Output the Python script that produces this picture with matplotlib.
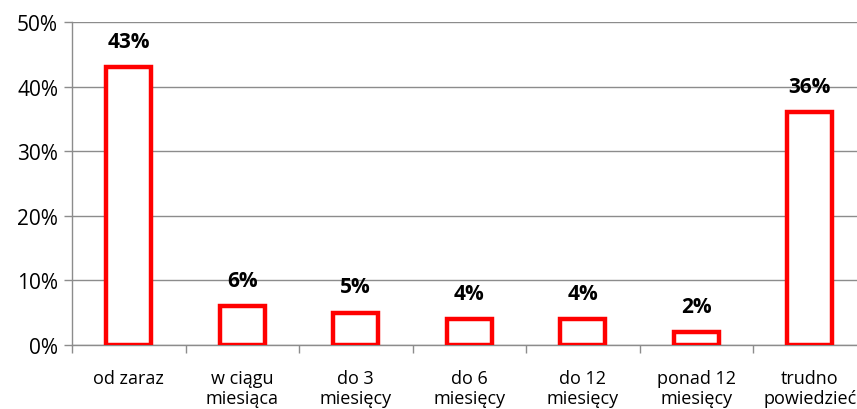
import matplotlib
matplotlib.use("Agg")
import matplotlib.pyplot as plt
import numpy as np

plt.rcParams['font.family'] = ['Open Sans', 'DejaVu Sans']

kategorie = ['od zaraz', 'w ciągu\nmiesiąca', 'do 3\nmiesięcy', 'do 6\nmiesięcy',
             'do 12\nmiesięcy', 'ponad 12\nmiesięcy', 'trudno\npowiedzieć']
wartosci = [43, 6, 5, 4, 4, 2, 36]

fig = plt.figure(figsize=(8.57, 4.10), dpi=100)
ax = fig.add_axes([72 / 857, 1 - 346 / 410, 794.5 / 857, 323 / 410])

x = np.arange(len(kategorie))
ax.bar(x, wartosci, width=0.4, facecolor='white', edgecolor='#ff0000', linewidth=3.2, zorder=3)

for xi, v in zip(x, wartosci):
    ax.text(xi, v + 2.4, f'{v}%', ha='center', va='bottom', fontsize=15,
            fontweight='bold', color='black')

ax.set_xlim(-0.5, len(kategorie) - 0.5)
ax.set_ylim(0, 50)
ax.set_yticks(np.arange(0, 51, 10))
ax.set_yticklabels([f'{t}%' for t in range(0, 51, 10)], fontsize=15)
ax.yaxis.grid(True, color='#8c8c8c', linewidth=1, zorder=0)

ax.set_xticks(x)
ax.set_xticklabels(kategorie, fontsize=13, linespacing=1.15)
ax.set_xticks(np.arange(-0.5, len(kategorie), 1), minor=True)
ax.tick_params(axis='x', which='major', length=0, pad=17)
ax.tick_params(axis='x', which='minor', length=6, color='#8c8c8c', width=1)
ax.tick_params(axis='y', length=6, color='#8c8c8c', width=1, pad=4)

for s in ['top', 'right']:
    ax.spines[s].set_visible(False)
for s in ['left', 'bottom']:
    ax.spines[s].set_color('#8c8c8c')
    ax.spines[s].set_linewidth(1)

plt.savefig('out.png', dpi=100)
